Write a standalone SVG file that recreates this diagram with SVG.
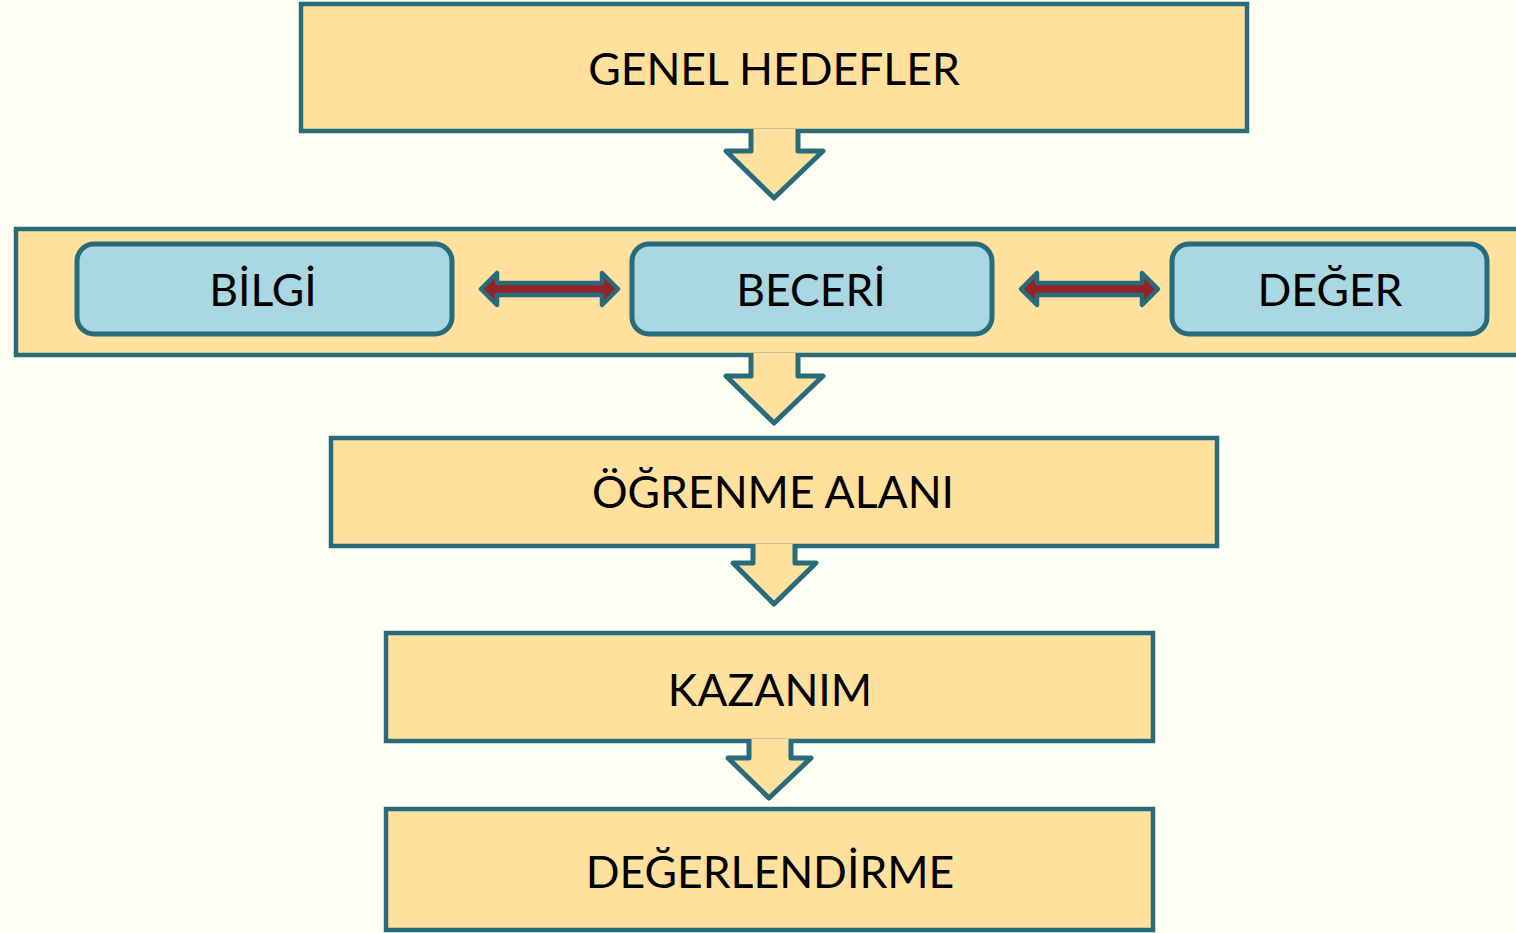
<svg xmlns="http://www.w3.org/2000/svg" width="1516" height="933" viewBox="0 0 1516 933">
<defs>
<style>
.box{fill:#FFE09C;stroke:#286B7B;stroke-width:4.5}
.pill{fill:#A9D7E2;stroke:#286B7B;stroke-width:5}
.down{fill:#FFE09C;stroke:#286B7B;stroke-width:5;stroke-linejoin:round}
.dbl{fill:#922428;stroke:#286B7B;stroke-width:4.5;stroke-linejoin:round}
text{font-family:Lato,"Open Sans","DejaVu Sans",sans-serif;font-size:44.5px;fill:#000;text-anchor:middle}
</style>
</defs>
<rect width="1516" height="933" fill="#FFFEF2"/>
<g id="genel-hedefler"><rect class="box" x="301" y="4" width="946" height="127"/><text x="774" y="85">GENEL HEDEFLER</text></g>
<g id="band"><rect class="box" x="16" y="229" width="1510" height="126"/></g>
<g id="bilgi"><rect class="pill" x="77" y="244" width="375" height="90" rx="17"/><text x="263" y="306">BİLGİ</text></g>
<g id="beceri"><rect class="pill" x="632" y="244" width="360" height="90" rx="17"/><text x="811" y="306">BECERİ</text></g>
<g id="deger"><rect class="pill" x="1172" y="244" width="315" height="90" rx="17"/><text x="1330" y="306">DEĞER</text></g>
<g id="ogrenme-alani"><rect class="box" x="331" y="438" width="886" height="108"/><text x="773" y="508">ÖĞRENME ALANI</text></g>
<g id="kazanim"><rect class="box" x="386" y="633" width="767" height="108"/><text x="770" y="706">KAZANIM</text></g>
<g id="degerlendirme"><rect class="box" x="386" y="809" width="767" height="121"/><text x="770" y="888">DEĞERLENDİRME</text></g>
<g id="connectors">
<path class="down" d="M751 129 V151 H726 L774 198 L823 151 H798 V129"/>
<path class="down" d="M751 353 V376 H726 L774 423 L823 376 H798 V353"/>
<path class="down" d="M753 544 V563 H733 L774 604 L816 563 H795 V544"/>
<path class="down" d="M749 739 V758 H728 L769 798 L811 758 H791 V739"/>
<path class="dbl" d="M481 289 L497 273 V283 H602 V273 L618 289 L602 305 V295 H497 V305 Z"/>
<path class="dbl" d="M1021 289 L1037 273 V283 H1142 V273 L1158 289 L1142 305 V295 H1037 V305 Z"/>
</g>
</svg>
